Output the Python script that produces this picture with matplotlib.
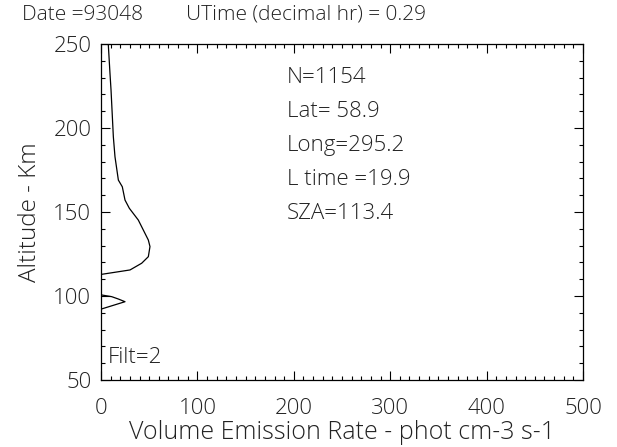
import matplotlib
matplotlib.use("Agg")
import matplotlib.pyplot as plt
from matplotlib.ticker import MultipleLocator

# upper emission layer (x = VER, y = altitude)
ver_upper = [7.6, 9.3, 10.4, 12.8, 14.5, 18.0, 22.1, 24.9, 29.4, 38.7, 49.1,
             50.8, 49.1, 42.2, 30.1, 0.7]
alt_upper = [249.4, 232.6, 222.6, 194.8, 182.9, 169.0, 165.0, 157.1, 152.2,
             145.2, 133.3, 129.4, 123.4, 119.5, 115.5, 112.9]
# lower small layer
ver_lower = [0.7, 11.1, 18.0, 24.9, 0.7]
alt_lower = [100.6, 99.6, 98.2, 96.6, 92.3]

title = "Date =93048        UTime (decimal hr) = 0.29"
info = ["N=1154", "Lat= 58.9", "Long=295.2", "L time =19.9", "SZA=113.4"]
info_alt = [229.8, 209.6, 189.4, 169.2, 149.2]
filt = "Filt=2"

plt.rcParams['font.family'] = ['Open Sans', 'DejaVu Sans']
plt.rcParams['font.weight'] = 'light'
plt.rcParams['axes.labelweight'] = 'light'
plt.rcParams['text.color'] = '#222222'
plt.rcParams['axes.labelcolor'] = '#222222'
fig = plt.figure(figsize=(6.17, 4.47), dpi=100)
ax = fig.add_axes([0.1637, 0.1499, 0.9449 - 0.1637, 0.9016 - 0.1499])

ax.plot(ver_upper, alt_upper, color='black', lw=0.9)
ax.plot(ver_lower, alt_lower, color='black', lw=0.9)

ax.set_xlim(0, 500)
ax.set_ylim(50, 250)
ax.xaxis.set_major_locator(MultipleLocator(100))
ax.xaxis.set_minor_locator(MultipleLocator(10))
ax.yaxis.set_major_locator(MultipleLocator(50))
ax.yaxis.set_minor_locator(MultipleLocator(10))
ax.tick_params(which='both', direction='in', top=True, right=True, width=0.8,
               labelcolor='#222222')
ax.tick_params(which='major', length=6.5, labelsize=16)
ax.tick_params(axis='x', which='major', pad=13)
ax.tick_params(axis='y', which='major', pad=7)
ax.tick_params(which='minor', length=3)
for s in ax.spines.values():
    s.set_linewidth(0.9)

ax.set_xlabel("Volume Emission Rate - phot cm-3 s-1", fontsize=18, labelpad=1)
ax.set_ylabel("Altitude - Km", fontsize=17.5, labelpad=8)
fig.text(0.036, 0.967, title, fontsize=15, va='center', ha='left')

for t, a in zip(info, info_alt):
    ax.text(193, a, t, fontsize=16, va='center', ha='left')
ax.text(7, 63.5, filt, fontsize=16, va='center', ha='left')

fig.savefig("out.png", dpi=100)
